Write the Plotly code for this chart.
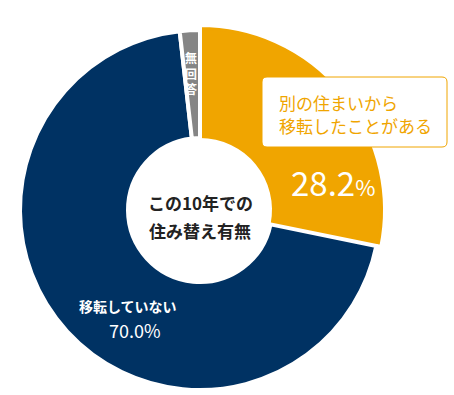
import plotly.graph_objects as go

# ---- data ----
categories = ["別の住まいから移転したことがある", "移転していない", "無回答"]
values = [28.2, 70.0, 1.8]
value_labels = ["28.2", "70.0%"]
center_title = ["この10年での", "住み替え有無"]

ORANGE = "#F0A500"
NAVY = "#003263"
GRAY = "#858585"
W, H = 454, 395
FONT = "Noto Sans CJK JP"


def px(x):
    return x / W


def py(y):
    return 1 - y / H


fig = go.Figure()

# slightly larger orange slice underneath (no pull, just bigger radius)
fig.add_trace(go.Pie(
    labels=categories, values=values, sort=False, direction="clockwise", rotation=0,
    hole=0.5,
    marker=dict(colors=[ORANGE, "rgba(0,0,0,0)", "rgba(0,0,0,0)"],
                line=dict(color="white", width=[4, 0, 0])),
    textinfo="none", hoverinfo="skip", showlegend=False,
    domain=dict(x=[px(15), px(385)], y=[py(395), py(25)]),
))

# main donut
fig.add_trace(go.Pie(
    labels=categories, values=values, sort=False, direction="clockwise", rotation=0,
    hole=0.4,
    marker=dict(colors=[ORANGE, NAVY, GRAY],
                line=dict(color="white", width=[0, 4, 4])),
    textinfo="none", hoverinfo="skip", showlegend=False,
    domain=dict(x=[px(20), px(380)], y=[py(390), py(30)]),
))

ann = []
# center title
ann.append(dict(x=px(200), y=py(203), text=center_title[0], showarrow=False,
                xanchor="center", yanchor="middle",
                font=dict(family=FONT, size=17, color="#222222", weight=700)))
ann.append(dict(x=px(200), y=py(230), text=center_title[1], showarrow=False,
                xanchor="center", yanchor="middle",
                font=dict(family=FONT, size=17, color="#222222", weight=700)))

# orange box text
ann.append(dict(x=px(277), y=py(102), text="別の住まいから", showarrow=False,
                xanchor="left", yanchor="middle",
                font=dict(family=FONT, size=17, color=ORANGE)))
ann.append(dict(x=px(277), y=py(125), text="移転したことがある", showarrow=False,
                xanchor="left", yanchor="middle",
                font=dict(family=FONT, size=17, color=ORANGE)))

# 28.2%
ann.append(dict(x=px(333), y=py(182),
                text=value_labels[0] + "<span style='font-size:22px'>%</span>",
                showarrow=False, xanchor="center", yanchor="middle",
                font=dict(family=FONT, size=33, color="white")))

# navy label
ann.append(dict(x=px(128), y=py(306), text="移転していない", showarrow=False,
                xanchor="center", yanchor="middle",
                font=dict(family=FONT, size=14, color="white", weight=700)))
ann.append(dict(x=px(135), y=py(330), text=value_labels[1], showarrow=False,
                xanchor="center", yanchor="middle",
                font=dict(family=FONT, size=18, color="white")))

# 無回答 vertical (single text block)
ann.append(dict(x=px(191), y=py(73), text="無<br>回<br>答", showarrow=False,
                xanchor="center", yanchor="middle", align="center",
                font=dict(family=FONT, size=12, color="white", weight=700)))

# rounded box
x0, x1, y0, y1, r = px(262), px(447), py(77), py(147), 5
rx, ry = r / W, r / H
path = (f"M {x0+rx},{y0} L {x1-rx},{y0} Q {x1},{y0} {x1},{y0-ry} "
        f"L {x1},{y1+ry} Q {x1},{y1} {x1-rx},{y1} L {x0+rx},{y1} "
        f"Q {x0},{y1} {x0},{y1+ry} L {x0},{y0-ry} Q {x0},{y0} {x0+rx},{y0} Z")

fig.update_layout(
    width=W, height=H, margin=dict(l=0, r=0, t=0, b=0),
    paper_bgcolor="white", plot_bgcolor="white",
    annotations=ann,
    shapes=[dict(type="path", path=path, xref="paper", yref="paper",
                 fillcolor="white", line=dict(color=ORANGE, width=1), layer="above")],
)

fig.write_html(
    "out.html",
    config={"displayModeBar": False},
    post_script="document.body.style.margin='0';document.body.style.overflow='hidden';",
)
